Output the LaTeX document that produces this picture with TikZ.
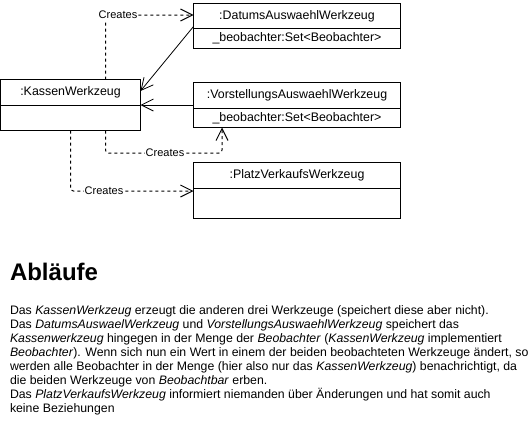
\documentclass[tikz,border=0pt]{standalone}
\usepackage{fontspec}
\setmainfont{Liberation Sans}
\usetikzlibrary{arrows.meta}

\begin{document}
\begin{tikzpicture}
  [
    x=1pt, y=-1pt,
    every node/.style={inner sep=0pt, outer sep=0pt},
    classbox/.style={draw, line width=1pt, anchor=north west, minimum width=#1},
    classbox/.default=207pt,
    classname/.style={font=\fontsize{12.4}{14}\selectfont},
    divider/.style={line width=1pt},
    creates/.style={line width=1pt, dash pattern=on 3pt off 3pt, rounded corners=3pt,
      -{Straight Barb[length=12pt, width=12pt, line width=1pt]}},
    createslabel/.style={fill=white, inner sep=1pt, font=\fontsize{11}{13}\selectfont},
    observes/.style={line width=0.8pt, -{Straight Barb[length=12pt, width=12pt, line width=0.8pt]}}
  ]
  \useasboundingbox (0,0) rectangle (531,423);

  % Klassen
  \node[classbox=140pt, minimum height=51pt] (kassen) at (0.5,79.5) {};
  \draw[divider] (0.5,105) -- (140.5,105);
  \node[classname] (kassenName) at (70.5,92) {:KassenWerkzeug};

  \node[classbox, minimum height=45pt] (datum) at (193.5,3.5) {};
  \draw[divider] (193.5,28.5) -- (400.5,28.5);
  \node[classname] (datumName) at (297,16) {:DatumsAuswaehlWerkzeug};
  \node[classname] (datumAttr) at (297,38.5) {\_beobachter:Set<Beobachter>};

  \node[classbox, minimum height=45pt] (vorst) at (193.5,82.5) {};
  \draw[divider] (193.5,108) -- (400.5,108);
  \node[classname] (vorstName) at (297,95) {:VorstellungsAuswaehlWerkzeug};
  \node[classname] (vorstAttr) at (297,118) {\_beobachter:Set<Beobachter>};

  \node[classbox, minimum height=56pt] (platz) at (193.5,162.5) {};
  \draw[divider] (193.5,188.5) -- (400.5,188.5);
  \node[classname] (platzName) at (297,175.5) {:PlatzVerkaufsWerkzeug};

  % Beobachter
  \coordinate (datumOut) at (193.5,26.5);
  \coordinate (kassenInA) at (140.5,91);
  \coordinate (vorstOut) at (193.5,105);
  \coordinate (kassenInB) at (140.5,105);
  \draw[observes] (datumOut) -- (kassenInA);
  \draw[observes] (vorstOut) -- (kassenInB);

  % Creates
  \coordinate (kassenTop) at (105.5,79.5);
  \coordinate (kassenBotA) at (105.5,130.5);
  \coordinate (kassenBotB) at (70.5,130.5);
  \coordinate (datumIn) at (193.5,15);
  \coordinate (vorstIn) at (222,127.5);
  \coordinate (platzIn) at (193.5,191);
  \draw[creates] (kassenTop) |- (datumIn);
  \draw[creates] (kassenBotA) |- (140,153) -| (vorstIn);
  \draw[creates] (kassenBotB) |- (platzIn);
  \node[createslabel] (createsA) at (118,15) {Creates};
  \node[createslabel] (createsB) at (165,153) {Creates};
  \node[createslabel] (createsC) at (104,191) {Creates};

  % Ablaeufe
  \node[anchor=base west, font=\bfseries\fontsize{24}{28}\selectfont] (title) at (10,280) {Abläufe};
  \node[anchor=north west, align=left, font=\fontsize{12.3}{14}\selectfont] (text) at (10,305.2)
  {Das \textit{KassenWerkzeug} erzeugt die anderen drei Werkzeuge (speichert diese aber nicht).\\
   Das \textit{DatumsAuswaelWerkzeug} und \textit{VorstellungsAuswaehlWerkzeug} speichert das\\
   \textit{Kassenwerkzeug} hingegen in der Menge der \textit{Beobachter} (\textit{KassenWerkzeug} implementiert\\
   \textit{Beobachter}). Wenn sich nun ein Wert in einem der beiden beobachteten Werkzeuge ändert, so\\
   werden alle Beobachter in der Menge (hier also nur das \textit{KassenWerkzeug}) benachrichtigt, da\\
   die beiden Werkzeuge von \textit{Beobachtbar} erben.\\
   Das \textit{PlatzVerkaufsWerkzeug} informiert niemanden über Änderungen und hat somit auch\\
   keine Beziehungen};
\end{tikzpicture}
\end{document}
